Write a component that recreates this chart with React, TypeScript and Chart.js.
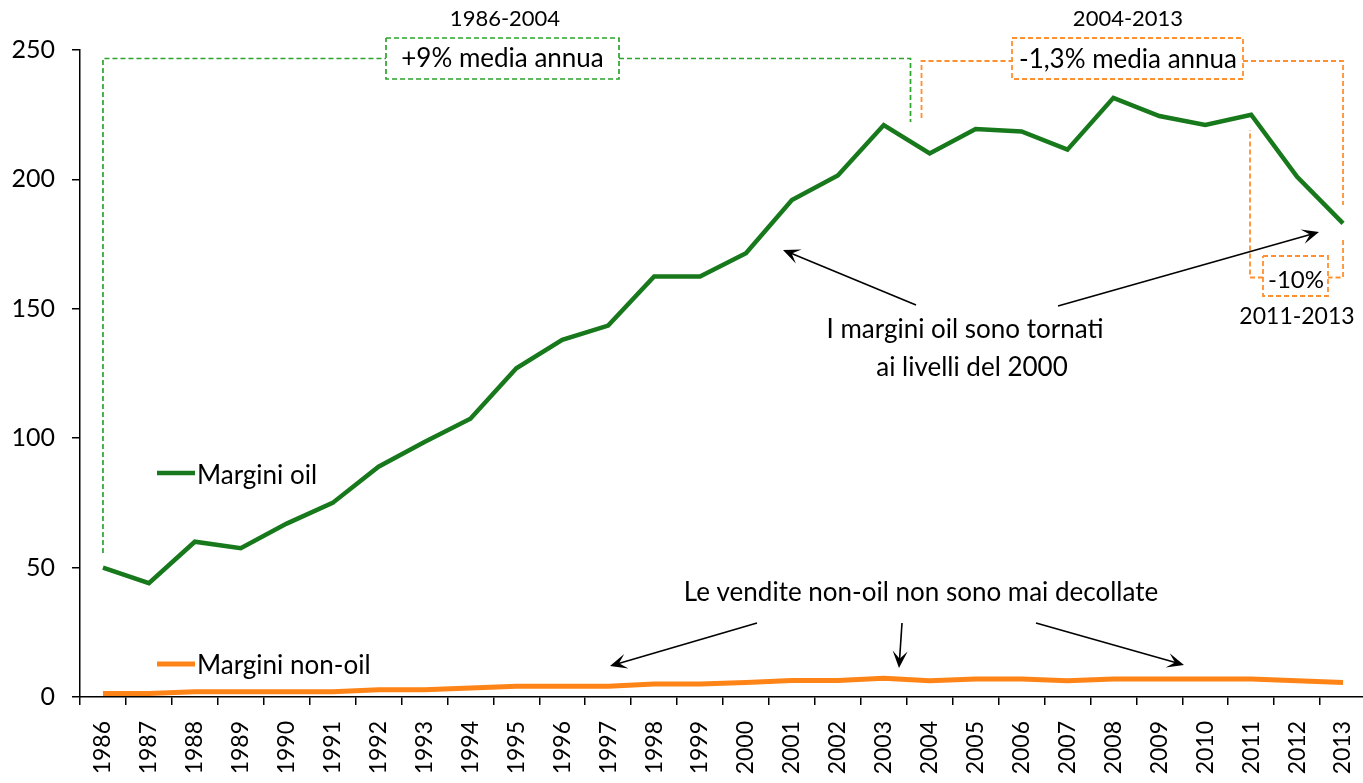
import { useEffect, useRef } from 'react';
import { Chart, registerables } from 'chart.js';

Chart.register(...registerables);

const years = [
  '1986', '1987', '1988', '1989', '1990', '1991', '1992', '1993', '1994', '1995',
  '1996', '1997', '1998', '1999', '2000', '2001', '2002', '2003', '2004', '2005',
  '2006', '2007', '2008', '2009', '2010', '2011', '2012', '2013',
];

const marginiOil = [
  50, 44, 60, 57.5, 67, 75, 89, 98.5, 107.5, 127,
  138, 143.5, 162.5, 162.5, 171.5, 192, 201.5, 221, 210, 219.5,
  218.5, 211.5, 231.5, 224.5, 221, 225, 201, 183,
];

const marginiNonOil = [
  1.4, 1.4, 2, 2, 2, 2, 2.8, 2.8, 3.5, 4.2,
  4.2, 4.2, 5, 5, 5.6, 6.4, 6.4, 7.2, 6.3, 7,
  7, 6.3, 7, 7, 7, 7, 6.3, 5.6,
];

const yMin = 0;
const yMax = 250;
const yStep = 50;

const FONT = 'Lato, "Open Sans", sans-serif';
const GREEN = '#17791c';
const ORANGE = '#ff8417';
const GREEN_DASH = '#2ea32e';
const ORANGE_DASH = '#ff9030';

function dashedPath(ctx: CanvasRenderingContext2D, pts: number[][], color: string, w: number) {
  ctx.save();
  ctx.strokeStyle = color;
  ctx.lineWidth = w;
  ctx.setLineDash([5, 3]);
  ctx.beginPath();
  pts.forEach((p, i) => (i === 0 ? ctx.moveTo(p[0], p[1]) : ctx.lineTo(p[0], p[1])));
  ctx.stroke();
  ctx.restore();
}

function dashedRect(ctx: CanvasRenderingContext2D, x: number, y: number, w: number, h: number, color: string, lw: number) {
  dashedPath(ctx, [[x, y], [x + w, y], [x + w, y + h], [x, y + h], [x, y]], color, lw);
}

function text(ctx: CanvasRenderingContext2D, s: string, x: number, y: number, size: number, align: CanvasTextAlign = 'center') {
  ctx.save();
  ctx.fillStyle = '#000';
  ctx.font = `${size}px ${FONT}`;
  ctx.textAlign = align;
  ctx.textBaseline = 'middle';
  ctx.fillText(s, x, y);
  ctx.restore();
}

function arrow(ctx: CanvasRenderingContext2D, x1: number, y1: number, x2: number, y2: number) {
  const a = Math.atan2(y2 - y1, x2 - x1);
  const c = Math.cos(a);
  const s = Math.sin(a);
  const L = 17;
  const W = 7.5;
  ctx.save();
  ctx.strokeStyle = '#000';
  ctx.fillStyle = '#000';
  ctx.lineWidth = 1.6;
  ctx.beginPath();
  ctx.moveTo(x1, y1);
  ctx.lineTo(x2 - c * 8, y2 - s * 8);
  ctx.stroke();
  ctx.beginPath();
  ctx.moveTo(x2, y2);
  ctx.lineTo(x2 - L * c + W * s, y2 - L * s - W * c);
  ctx.lineTo(x2 - 0.55 * L * c, y2 - 0.55 * L * s);
  ctx.lineTo(x2 - L * c - W * s, y2 - L * s + W * c);
  ctx.closePath();
  ctx.fill();
  ctx.restore();
}

const annotationPlugin = {
  id: 'annotations',
  afterDraw(chart: any) {
    const ctx: CanvasRenderingContext2D = chart.ctx;
    const xs = chart.scales.x;
    const x1986 = xs.getPixelForValue(0);
    const x2013 = xs.getPixelForValue(years.length - 1);

    // green bracket 1986-2004
    dashedPath(ctx, [[x1986, 553], [x1986, 58.5], [386, 58.5]], GREEN_DASH, 1.7);
    dashedRect(ctx, 386, 38, 233, 41, GREEN_DASH, 1.7);
    dashedPath(ctx, [[619, 58.5], [910.5, 58.5], [910.5, 122]], GREEN_DASH, 1.7);
    text(ctx, '1986-2004', 505, 19, 22);
    text(ctx, '+9% media annua', 502.5, 59, 26);

    // orange bracket 2004-2013
    dashedPath(ctx, [[921.5, 118], [921.5, 61], [1012, 61]], ORANGE_DASH, 1.8);
    dashedRect(ctx, 1012, 38, 231, 41, ORANGE_DASH, 1.8);
    dashedPath(ctx, [[1243, 61], [x2013, 61], [x2013, 205]], ORANGE_DASH, 1.8);
    text(ctx, '2004-2013', 1128, 19, 22);
    text(ctx, '-1,3% media annua', 1128, 60, 26);

    // orange bracket 2011-2013
    dashedPath(ctx, [[x2013, 240], [x2013, 277.5], [1328, 277.5]], ORANGE_DASH, 1.8);
    dashedRect(ctx, 1263, 256, 65, 40, ORANGE_DASH, 1.8);
    dashedPath(ctx, [[1263, 277.5], [1250, 277.5], [1250, 130]], ORANGE_DASH, 1.8);
    text(ctx, '-10%', 1296, 280, 24);
    text(ctx, '2011-2013', 1297, 317, 23);

    // oil comment
    text(ctx, 'I margini oil sono tornati', 965, 330, 26);
    text(ctx, 'ai livelli del 2000', 972, 368, 26);
    arrow(ctx, 916, 305, 783, 250);
    arrow(ctx, 1058, 306, 1319, 232);

    // non-oil comment
    text(ctx, 'Le vendite non-oil non sono mai decollate', 921, 593, 26);
    arrow(ctx, 757, 623, 610, 666);
    arrow(ctx, 902, 623, 899, 668);
    arrow(ctx, 1036, 623, 1184, 665);

    // series labels
    ctx.save();
    ctx.lineWidth = 4.5;
    ctx.strokeStyle = GREEN;
    ctx.beginPath();
    ctx.moveTo(157, 473);
    ctx.lineTo(195, 473);
    ctx.stroke();
    ctx.strokeStyle = ORANGE;
    ctx.lineWidth = 5;
    ctx.beginPath();
    ctx.moveTo(157, 664);
    ctx.lineTo(195, 664);
    ctx.stroke();
    ctx.restore();
    text(ctx, 'Margini oil', 197, 476, 26, 'left');
    text(ctx, 'Margini non-oil', 197, 666, 26, 'left');
  },
};

export default function App() {
  const ref = useRef<HTMLCanvasElement>(null);

  useEffect(() => {
    if (!ref.current) return;
    const chart = new Chart(ref.current, {
      type: 'line',
      data: {
        labels: years,
        datasets: [
          {
            label: 'Margini oil',
            data: marginiOil,
            borderColor: GREEN,
            backgroundColor: GREEN,
            borderWidth: 4.5,
            pointRadius: 0,
            tension: 0,
          },
          {
            label: 'Margini non-oil',
            data: marginiNonOil,
            borderColor: ORANGE,
            backgroundColor: ORANGE,
            borderWidth: 5,
            pointRadius: 0,
            tension: 0,
          },
        ],
      },
      options: {
        responsive: false,
        animation: false,
        devicePixelRatio: 1,
        layout: { padding: { top: 50, right: 0, left: 0, bottom: 0 } },
        plugins: {
          legend: { display: false },
          tooltip: { enabled: false },
        },
        scales: {
          x: {
            type: 'category',
            offset: true,
            grid: {
              offset: true,
              drawOnChartArea: false,
              drawTicks: true,
              tickLength: 8,
              color: '#000',
              lineWidth: 1.5,
            },
            border: { display: true, color: '#000', width: 1.5 },
            ticks: {
              autoSkip: false,
              minRotation: 90,
              maxRotation: 90,
              padding: 16,
              color: '#000',
              font: { family: FONT, size: 23 },
            },
            afterFit: (s: any) => {
              s.height = 86;
              s.paddingLeft = 0;
              s.paddingRight = 0;
            },
          },
          y: {
            min: yMin,
            max: yMax,
            grid: {
              drawOnChartArea: false,
              drawTicks: true,
              tickLength: 8,
              color: '#000',
              lineWidth: 1.5,
            },
            border: { display: true, color: '#000', width: 1.5 },
            ticks: {
              stepSize: yStep,
              padding: 17,
              color: '#000',
              font: { family: FONT, size: 25 },
            },
            afterFit: (s: any) => {
              s.width = 80;
              s.paddingTop = 0;
              s.paddingBottom = 0;
            },
          },
        },
      },
      plugins: [annotationPlugin],
    });
    return () => chart.destroy();
  }, []);

  return (
    <div
      style={{
        position: 'fixed',
        left: 0,
        top: 0,
        width: 1363,
        height: 783,
        overflow: 'hidden',
        background: '#fff',
      }}
    >
      <canvas ref={ref} width={1366} height={783} style={{ display: 'block' }} />
    </div>
  );
}
